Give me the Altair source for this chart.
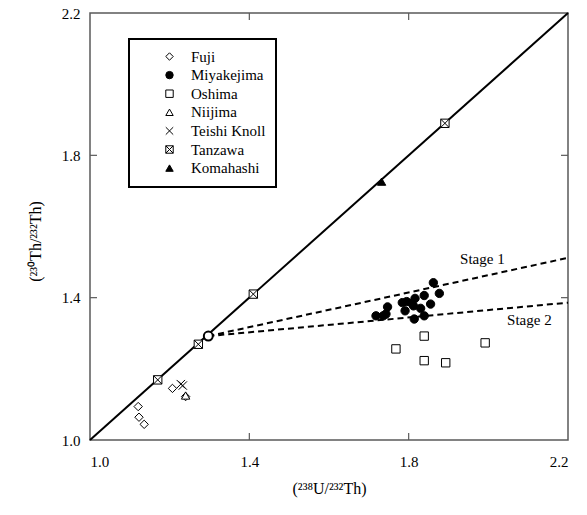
import altair as alt
import pandas as pd

# ---------------- data ----------------
groups = ["Fuji", "Miyakejima", "Oshima", "Niijima", "Teishi Knoll", "Tanzawa", "Komahashi"]
shapes = ["diamond", "circle", "square", "triangle-up",
          "M-1,-1L1,1M-1,1L1,-1",
          "M-1,-1L1,-1L1,1L-1,1ZM-1,-1L1,1M-1,1L1,-1",
          "triangle-up"]
fills = ["white", "black", "white", "white", "white", "white", "black"]
strokes = ["black"] * 7

fuji_x = [1.121, 1.123, 1.136, 1.207, 1.240]
fuji_y = [1.094, 1.064, 1.044, 1.145, 1.122]

miyake_x = [1.862, 1.839, 1.877, 1.747, 1.784, 1.795, 1.816, 1.808, 1.855,
            1.791, 1.830, 1.718, 1.736, 1.743, 1.814, 1.839, 1.812]
miyake_y = [1.442, 1.406, 1.412, 1.374, 1.386, 1.389, 1.398, 1.384, 1.382,
            1.363, 1.370, 1.349, 1.349, 1.354, 1.340, 1.349, 1.377]

oshima_x = [1.839, 1.768, 1.839, 1.893, 1.992]
oshima_y = [1.292, 1.256, 1.223, 1.217, 1.273]

niijima_x = [1.240]
niijima_y = [1.125]

teishi_x = [1.228, 1.233]
teishi_y = [1.157, 1.153]

tanzawa_x = [1.170, 1.272, 1.410, 1.891]
tanzawa_y = [1.169, 1.269, 1.410, 1.890]

komahashi_x = [1.732]
komahashi_y = [1.726]

equiline = [1.0, 2.2]

origin_x = [1.297]
origin_y = [1.292]

stage_names = ["Stage 1", "Stage 2"]
stage_end_y = [1.512, 1.386]
stage_label_x = [1.929, 2.047]
stage_label_y = [1.509, 1.337]

tick_values = [1.4, 1.8]

# ---------------- tables ----------------
rows = []
for g, xs, ys in [("Fuji", fuji_x, fuji_y), ("Miyakejima", miyake_x, miyake_y),
                  ("Oshima", oshima_x, oshima_y), ("Niijima", niijima_x, niijima_y),
                  ("Teishi Knoll", teishi_x, teishi_y), ("Tanzawa", tanzawa_x, tanzawa_y),
                  ("Komahashi", komahashi_x, komahashi_y)]:
    for a, b in zip(xs, ys):
        rows.append({"x": a, "y": b, "group": g})
pts = pd.DataFrame(rows)

eq_df = pd.DataFrame({"x": equiline, "y": equiline})

stage_rows = []
for name, ey in zip(stage_names, stage_end_y):
    stage_rows.append({"x": origin_x[0], "y": origin_y[0], "stage": name})
    stage_rows.append({"x": 2.2, "y": ey, "stage": name})
stage_df = pd.DataFrame(stage_rows)

label_df = pd.DataFrame({"x": stage_label_x, "y": stage_label_y, "text": stage_names})
origin_df = pd.DataFrame({"x": origin_x, "y": origin_y})
ticks_df = pd.DataFrame({"x": tick_values, "y": tick_values})

W, H = 478, 427
FONT = "Liberation Serif"
GRAY = "#5a5a5a"

xscale = alt.Scale(domain=[1.0, 2.2], nice=False, zero=False)
yscale = alt.Scale(domain=[1.0, 2.2], nice=False, zero=False)

X = alt.X("x:Q", scale=xscale,
          axis=alt.Axis(values=[1.0, 1.4, 1.8, 2.2], format=".1f", labelPadding=14,
                        labelFont=FONT, labelFontSize=15,
                        title="(²³⁸U/²³²Th)", titleX=W / 2, titleY=48,
                        titleBaseline="middle"))
Y = alt.Y("y:Q", scale=yscale,
          axis=alt.Axis(values=[1.0, 1.4, 1.8, 2.2], format=".1f", labelPadding=10,
                        labelFont=FONT, labelFontSize=15,
                        title="(²³⁰Th/²³²Th)", titleX=-55, titleY=228,
                        titleAngle=-90, titleBaseline="middle", titleAlign="center"))

eq_line = alt.Chart(eq_df).mark_line(color="black", strokeWidth=2).encode(x=X, y=Y)

stage_lines = alt.Chart(stage_df).mark_line(
    color="black", strokeWidth=2, strokeDash=[6, 4]
).encode(x=X, y=Y, detail="stage:N")

leg = alt.Legend(title=None)
points = alt.Chart(pts).mark_point(
    strokeWidth=1, opacity=1, size=70
).encode(
    x=X, y=Y,
    shape=alt.Shape("group:N", scale=alt.Scale(domain=groups, range=shapes), legend=leg),
    fill=alt.Fill("group:N", scale=alt.Scale(domain=groups, range=fills), legend=leg),
    stroke=alt.Stroke("group:N", scale=alt.Scale(domain=groups, range=strokes), legend=leg),
)

origin = alt.Chart(origin_df).mark_point(
    shape="circle", size=80, stroke="black", strokeWidth=2, fill="white", opacity=1
).encode(x=X, y=Y)

labels = alt.Chart(label_df).mark_text(
    align="left", baseline="middle", font=FONT, fontSize=15, color="black"
).encode(x=X, y=Y, text="text:N")

tick_b = alt.Chart(ticks_df).mark_rule(color=GRAY, strokeWidth=1.2).encode(
    x=X, y=alt.value(H), y2=alt.value(H - 7))
tick_t = alt.Chart(ticks_df).mark_rule(color=GRAY, strokeWidth=1.2).encode(
    x=X, y=alt.value(0), y2=alt.value(7))
tick_l = alt.Chart(ticks_df).mark_rule(color=GRAY, strokeWidth=1.2).encode(
    y=Y, x=alt.value(0), x2=alt.value(7))
tick_r = alt.Chart(ticks_df).mark_rule(color=GRAY, strokeWidth=1.2).encode(
    y=Y, x=alt.value(W), x2=alt.value(W - 7))

chart = alt.layer(
    tick_b, tick_t, tick_l, tick_r, eq_line, stage_lines, points, origin, labels
).properties(
    width=W, height=H,
    autosize=alt.AutoSizeParams(type="none"),
    padding={"left": 90, "top": 13, "right": 19, "bottom": 75},
).configure_view(
    stroke=GRAY, strokeWidth=1.5
).configure_axis(
    grid=False, ticks=False, domain=False,
    labelFont=FONT, labelFontSize=15, labelColor="black",
    titleFont=FONT, titleFontSize=16, titleColor="black", titleFontWeight="normal",
).configure_legend(
    orient="none", legendX=39, legendY=26,
    strokeColor="black", strokeWidth=2, padding=10,
    labelFont=FONT, labelFontSize=15, labelColor="black",
    symbolSize=55, symbolStrokeWidth=1,
    symbolOffset=23, labelOffset=14, rowPadding=2.6, labelLimit=200,
)

chart.save("out.html", embed_options={"renderer": "svg", "actions": False})
